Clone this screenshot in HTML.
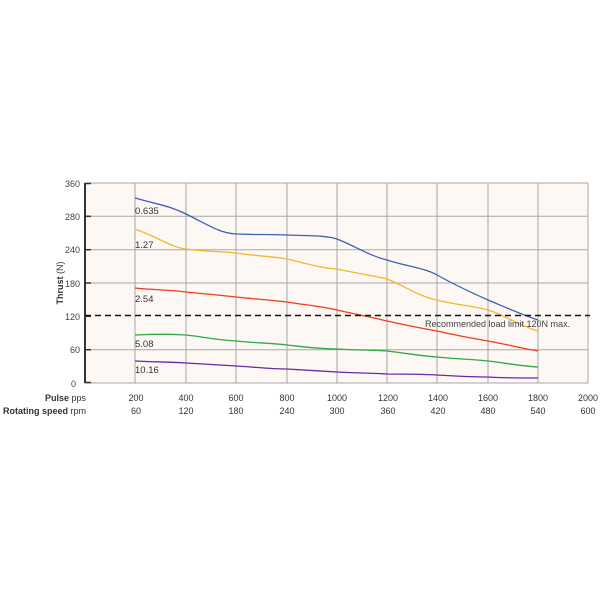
<!DOCTYPE html>
<html><head><meta charset="utf-8"><style>
html,body{margin:0;padding:0;background:#fff;}
svg{display:block;font-family:"Liberation Sans","DejaVu Sans",sans-serif;}
</style></head><body>
<svg width="600" height="600" viewBox="0 0 600 600">
<rect x="85" y="183" width="503" height="200" fill="#fdf8f3" stroke="#a8a8a8" stroke-width="1"/>
<g stroke="#a8a8a8" stroke-width="1">
<line x1="85" y1="216.3" x2="588" y2="216.3"/><line x1="85" y1="249.7" x2="588" y2="249.7"/>
<line x1="85" y1="283" x2="588" y2="283"/><line x1="85" y1="349.7" x2="588" y2="349.7"/>
<line x1="135" y1="183" x2="135" y2="383"/><line x1="186" y1="183" x2="186" y2="383"/>
<line x1="236" y1="183" x2="236" y2="383"/><line x1="287" y1="183" x2="287" y2="383"/>
<line x1="337" y1="183" x2="337" y2="383"/><line x1="387" y1="183" x2="387" y2="383"/>
<line x1="437" y1="183" x2="437" y2="383"/><line x1="488" y1="183" x2="488" y2="383"/>
<line x1="538" y1="183" x2="538" y2="383"/>
</g>
<line x1="85" y1="183" x2="85" y2="383" stroke="#333" stroke-width="2"/>
<g stroke="#333" stroke-width="1.5">
<line x1="85" y1="183.5" x2="91" y2="183.5"/><line x1="85" y1="216.3" x2="91" y2="216.3"/>
<line x1="85" y1="249.7" x2="91" y2="249.7"/><line x1="85" y1="283" x2="91" y2="283"/>
<line x1="85" y1="316.3" x2="91" y2="316.3"/><line x1="85" y1="349.7" x2="91" y2="349.7"/>
<line x1="85" y1="382.5" x2="91" y2="382.5"/>
</g>
<g font-size="9" fill="#444" text-anchor="end">
<text x="80" y="187">360</text><text x="80" y="220">280</text><text x="80" y="253">240</text>
<text x="80" y="287">180</text><text x="80" y="320">120</text><text x="80" y="353">60</text>
<text x="76" y="387">0</text>
</g>
<text transform="translate(63,283) rotate(-90)" font-size="9" fill="#333" text-anchor="middle"><tspan font-weight="bold">Thrust</tspan> (N)</text>
<g fill="none" stroke-width="1.3">
<path stroke="#4060b0" d="M135,198 C160,205 170,206 186,214 C210,226 220,233 236,234 C255,235 270,234 287,235 C305,236 325,235 337,239 C355,246 370,256 387,260 C405,266 425,268 437,275 C455,285 470,292 488,300 C505,307 520,314 538,320"/>
<path stroke="#f0b830" d="M135,229 C160,238 170,247 186,249 C205,252 220,251 236,253 C255,256 270,256 287,259 C305,263 320,268 337,269 C355,273 370,275 387,279 C405,286 420,297 437,300 C455,305 470,305 488,310 C505,315 520,326 538,331"/>
<path stroke="#f03c20" d="M135,288 C155,290 170,290 186,292 C205,294 220,295 236,297 C255,299 270,300 287,302 C305,305 320,306 337,310 C355,314 370,317 387,321 C405,325 420,328 437,331 C455,335 470,338 488,341 C505,344 520,348 538,351"/>
<path stroke="#30a848" d="M135,335 C155,334 170,334 186,335 C205,337 215,340 236,341 C255,343 270,343 287,345 C305,347 320,349 337,349 C355,350 370,350 387,351 C405,353 420,356 437,357 C455,359 470,359 488,361 C505,363 520,366 538,367"/>
<path stroke="#6a28a8" d="M135,361 C155,362 170,362 186,363 C205,364 220,365 236,366 C255,367 270,369 287,369 C305,370 320,371 337,372 C355,373 370,373 387,374 C405,374 420,374 437,375 C455,376 470,377 488,377 C505,378 520,378 538,378"/>
</g>
<line x1="85" y1="315.5" x2="590" y2="315.5" stroke="#111" stroke-width="1.5" stroke-dasharray="6,4"/>
<g font-size="9.5" fill="#333">
<text x="135" y="214">0.635</text><text x="135" y="248">1.27</text><text x="135" y="302">2.54</text>
<text x="135" y="347">5.08</text><text x="135" y="373">10.16</text>
<text x="425" y="327" font-size="9" fill="#444">Recommended load limit 120N max.</text>
</g>
<g font-size="9" fill="#333" text-anchor="middle">
<text x="136" y="401">200</text><text x="186" y="401">400</text><text x="236" y="401">600</text>
<text x="287" y="401">800</text><text x="337" y="401">1000</text><text x="388" y="401">1200</text>
<text x="438" y="401">1400</text><text x="488" y="401">1600</text><text x="538" y="401">1800</text>
<text x="588" y="401">2000</text>
<text x="136" y="414">60</text><text x="186" y="414">120</text><text x="236" y="414">180</text>
<text x="287" y="414">240</text><text x="337" y="414">300</text><text x="388" y="414">360</text>
<text x="438" y="414">420</text><text x="488" y="414">480</text><text x="538" y="414">540</text>
<text x="588" y="414">600</text>
</g>
<g font-size="9" fill="#333" text-anchor="end">
<text x="86" y="401"><tspan font-weight="bold">Pulse</tspan> pps</text>
<text x="86" y="414"><tspan font-weight="bold">Rotating speed</tspan> rpm</text>
</g>
</svg>
</body></html>
